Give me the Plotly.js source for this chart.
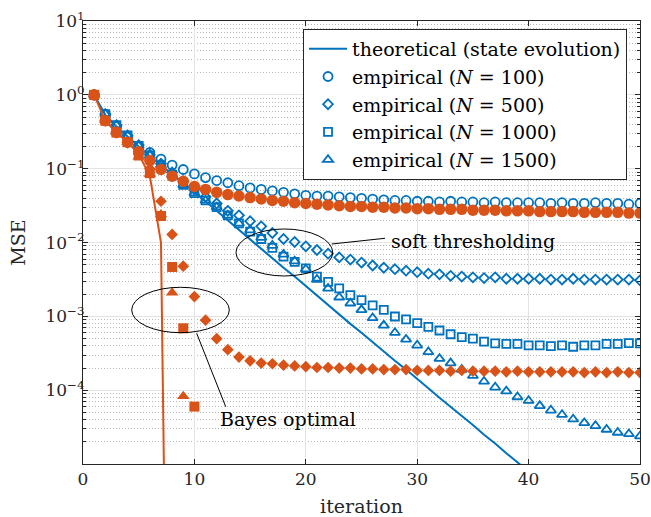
<!DOCTYPE html>
<html>
<head>
<meta charset="utf-8">
<script src="https://cdn.plot.ly/plotly-3.0.1.min.js"></script>
<style>html,body{margin:0;padding:0;background:#fff;}#chart{width:651px;height:517px;}</style>
</head>
<body>
<div id="chart"></div>
<script>
// ---- data ----
const iterations = Array.from({length: 50}, (_, i) => i + 1);

// soft thresholding, theoretical (state evolution)
const softTheory = [1.0, 0.537, 0.372, 0.269, 0.200, 0.148, 0.112, 0.0851, 0.0646, 0.0490,
  0.0363, 0.0269, 0.0200, 0.0148, 0.0110, 0.00832, 0.00617, 0.00457, 0.00347, 0.00257,
  0.00191, 0.00145, 0.00107, 0.000794, 0.000603, 0.000447, 0.000339, 0.000251, 0.000191, 0.000141,
  0.000107, 7.94e-5, 6.03e-5, 4.47e-5, 3.39e-5, 2.51e-5, 1.91e-5, 1.41e-5, 1.07e-5, 7.94e-6,
  6.03e-6, 4.47e-6, 3.39e-6, 2.51e-6, 1.91e-6, 1.41e-6, 1.07e-6, 7.94e-7, 6.03e-7, 4.47e-7];

// soft thresholding, empirical
const softN100 = [1.0, 0.55, 0.372, 0.269, 0.200, 0.166, 0.135, 0.112, 0.0977, 0.0851,
  0.0759, 0.0692, 0.0646, 0.0589, 0.0550, 0.0525, 0.0501, 0.0479, 0.0457, 0.0437,
  0.0427, 0.0427, 0.0417, 0.0407, 0.0398, 0.0389, 0.0380, 0.0372, 0.0372, 0.0363,
  0.0363, 0.0355, 0.0363, 0.0355, 0.0355, 0.0347, 0.0355, 0.0347, 0.0347, 0.0347,
  0.0347, 0.0339, 0.0347, 0.0339, 0.0339, 0.0347, 0.0339, 0.0339, 0.0331, 0.0339];
const softN500 = [1.0, 0.55, 0.389, 0.282, 0.209, 0.155, 0.117, 0.0891, 0.0676, 0.0525,
  0.0417, 0.0339, 0.0269, 0.0234, 0.0195, 0.0166, 0.0135, 0.0112, 0.0102, 0.00891,
  0.00794, 0.00708, 0.00631, 0.00589, 0.00537, 0.00490, 0.00457, 0.00437, 0.00417, 0.00398,
  0.00380, 0.00372, 0.00355, 0.00347, 0.00339, 0.00331, 0.00339, 0.00324, 0.00324, 0.00324,
  0.00324, 0.00316, 0.00316, 0.00324, 0.00316, 0.00316, 0.00316, 0.00316, 0.00316, 0.00309];
const softN1000 = [1.0, 0.55, 0.389, 0.282, 0.204, 0.151, 0.112, 0.0832, 0.0603, 0.0468,
  0.0372, 0.0302, 0.0234, 0.0182, 0.0141, 0.0112, 0.00851, 0.00646, 0.00550, 0.00447,
  0.00347, 0.00295, 0.00240, 0.00195, 0.00166, 0.00141, 0.00123, 0.00100, 0.000912, 0.000813,
  0.000724, 0.000646, 0.000575, 0.000525, 0.000501, 0.000457, 0.000432, 0.000427, 0.000427, 0.000407,
  0.000407, 0.000398, 0.000407, 0.000389, 0.000407, 0.000407, 0.000427, 0.000427, 0.000437, 0.000432];
const softN1500 = [1.0, 0.55, 0.389, 0.282, 0.204, 0.151, 0.112, 0.0832, 0.0603, 0.0468,
  0.0372, 0.0302, 0.0234, 0.0182, 0.0148, 0.0117, 0.00912, 0.00692, 0.00562, 0.00437,
  0.00316, 0.00240, 0.00182, 0.00151, 0.00123, 0.000955, 0.000759, 0.000603, 0.000490, 0.000407,
  0.000331, 0.000269, 0.000234, 0.000191, 0.000158, 0.000132, 0.000110, 9.77e-5, 8.13e-5, 7.24e-5,
  6.17e-5, 5.37e-5, 4.68e-5, 4.07e-5, 3.63e-5, 3.31e-5, 2.95e-5, 2.69e-5, 2.57e-5, 2.40e-5];

// Bayes optimal, theoretical
const bayesTheoryIter = [1, 2, 3, 4, 5, 6, 7, 8];
const bayesTheory = [1.0, 0.447, 0.309, 0.229, 0.158, 0.0794, 0.0100, 3e-14];

// Bayes optimal, empirical
const bayesN100 = [1.0, 0.447, 0.309, 0.229, 0.170, 0.129, 0.0977, 0.0794, 0.0676, 0.0575,
  0.0525, 0.0479, 0.0447, 0.0427, 0.0407, 0.0389, 0.0372, 0.0363, 0.0347, 0.0339,
  0.0331, 0.0324, 0.0316, 0.0309, 0.0309, 0.0302, 0.0302, 0.0295, 0.0295, 0.0288,
  0.0288, 0.0282, 0.0282, 0.0282, 0.0275, 0.0275, 0.0275, 0.0269, 0.0269, 0.0269,
  0.0263, 0.0263, 0.0263, 0.0263, 0.0257, 0.0257, 0.0257, 0.0257, 0.0251, 0.0251];
const bayesN500 = [1.0, 0.447, 0.309, 0.224, 0.158, 0.100, 0.0363, 0.0129, 0.00479, 0.00186,
  0.000891, 0.000501, 0.000355, 0.000282, 0.000251, 0.000234, 0.000229, 0.000219, 0.000214, 0.000209,
  0.000204, 0.000204, 0.000200, 0.000200, 0.000195, 0.000195, 0.000191, 0.000191, 0.000191, 0.000186,
  0.000186, 0.000186, 0.000182, 0.000186, 0.000182, 0.000182, 0.000182, 0.000178, 0.000182, 0.000178,
  0.000178, 0.000178, 0.000178, 0.000178, 0.000174, 0.000178, 0.000174, 0.000178, 0.000174, 0.000174];
const bayesN1000Iter = [1, 2, 3, 4, 5, 6, 7, 8, 9, 10];
const bayesN1000 = [1.0, 0.447, 0.309, 0.229, 0.151, 0.0871, 0.0229, 0.00468, 0.000692, 6.03e-5];
const bayesN1500Iter = [1, 2, 3, 4, 5, 6, 7, 8, 9];
const bayesN1500 = [1.0, 0.457, 0.316, 0.229, 0.145, 0.0851, 0.0240, 0.00209, 8.32e-5];

// labels
const legendNames = ['theoretical (state evolution)', 'empirical (<i>N</i> = 100)',
  'empirical (<i>N</i> = 500)', 'empirical (<i>N</i> = 1000)', 'empirical (<i>N</i> = 1500)'];
const xTickVals = [0, 10, 20, 30, 40, 50];
const yTickVals = [1e-4, 1e-3, 1e-2, 1e-1, 1e0, 1e1];
const yTickText = ['10<sup>\u22124</sup>', '10<sup>\u22123</sup>', '10<sup>\u22122</sup>',
  '10<sup>\u22121</sup>', '10<sup>0</sup>', '10<sup>1</sup>'];

// ---- styling ----
const BLUE = '#0072BD', ORANGE = '#D95319', AX = '#262626';
const FONT = 'DejaVu Serif';

const yMinor = [];
for (let e = -5; e <= 0; e++) for (let m = 2; m <= 9; m++) yMinor.push(m * Math.pow(10, e));

function openMarkers(y, symbol, size, name) {
  return {x: iterations, y: y, type: 'scatter', mode: 'markers', name: name,
    marker: {symbol: symbol, size: size, color: BLUE, line: {color: BLUE, width: 1.8}}};
}
function filledMarkers(x, y, symbol, size) {
  return {x: x, y: y, type: 'scatter', mode: 'markers', showlegend: false,
    marker: {symbol: symbol, size: size, color: ORANGE, line: {width: 0}}};
}

const traces = [
  {x: iterations, y: softTheory, type: 'scatter', mode: 'lines', name: legendNames[0],
   line: {color: BLUE, width: 2}},
  openMarkers(softN100, 'circle-open', 9, legendNames[1]),
  openMarkers(softN500, 'diamond-open', 7.5, legendNames[2]),
  openMarkers(softN1000, 'square-open', 8, legendNames[3]),
  openMarkers(softN1500, 'triangle-up-open', 9, legendNames[4]),
  {x: bayesTheoryIter, y: bayesTheory, type: 'scatter', mode: 'lines', showlegend: false,
   line: {color: ORANGE, width: 2}},
  filledMarkers(iterations, bayesN100, 'circle', 11.5),
  filledMarkers(iterations, bayesN500, 'diamond', 9),
  filledMarkers(bayesN1000Iter, bayesN1000, 'square', 10),
  filledMarkers(bayesN1500Iter, bayesN1500, 'triangle-up', 11)
];

// annotation geometry in paper coordinates
const ann = {
  softEllipse: [0.2747, 0.4244, 0.4483, 0.5305],
  bayesEllipse: [0.0874, 0.2964, 0.2627, 0.3989],
  softPointer: [0.4465, 0.4966, 0.5422, 0.5095],
  bayesPointer: [0.2041, 0.2950, 0.2562, 0.1293]
};
function paperShape(type, c) {
  return {type: type, xref: 'paper', yref: 'paper', x0: c[0], y0: c[1], x1: c[2], y1: c[3],
    line: {color: '#000', width: 1}};
}

const layout = {
  width: 651, height: 517,
  margin: {l: 83, r: 11, t: 21, b: 53},
  paper_bgcolor: '#fff', plot_bgcolor: '#fff',
  font: {family: FONT, size: 19, color: AX},
  showlegend: true,
  legend: {x: 0.395, y: 0.982, xanchor: 'left', yanchor: 'top', itemwidth: 38,
    bgcolor: '#fff', bordercolor: AX, borderwidth: 1,
    font: {family: FONT, size: 19, color: '#000'}},
  xaxis: {range: [0, 50], tickmode: 'array', tickvals: xTickVals,
    ticks: 'inside', ticklen: 5, tickcolor: AX, showline: true, linecolor: AX, linewidth: 1,
    mirror: 'allticks', showgrid: true, gridcolor: '#e3e3e3', zeroline: false,
    tickfont: {family: FONT, size: 17, color: AX},
    title: {text: 'iteration', font: {family: FONT, size: 19, color: AX}, standoff: 11}},
  yaxis: {type: 'log', range: [-4.997, 1], tickmode: 'array', tickvals: yTickVals, ticktext: yTickText,
    ticks: 'inside', ticklen: 5, tickcolor: AX, showline: true, linecolor: AX, linewidth: 1,
    mirror: 'allticks', showgrid: true, gridcolor: '#e3e3e3', zeroline: false,
    ticklabelstandoff: -6,
    tickfont: {family: FONT, size: 17, color: AX},
    minor: {tickmode: 'array', tickvals: yMinor, ticks: 'inside', ticklen: 3, tickcolor: AX,
      showgrid: true, gridcolor: '#b8b8b8', griddash: '1px,2px', gridwidth: 1},
    title: {text: 'MSE', font: {family: FONT, size: 19, color: AX}, standoff: 14}},
  shapes: [
    paperShape('circle', ann.softEllipse),
    paperShape('circle', ann.bayesEllipse),
    paperShape('line', ann.softPointer),
    paperShape('line', ann.bayesPointer)
  ],
  annotations: [
    {text: 'soft thresholding', xref: 'x', yref: 'y', x: 27.45, y: -1.98,
     xanchor: 'left', yanchor: 'middle', showarrow: false,
     font: {family: FONT, size: 19, color: '#000'}},
    {text: 'Bayes optimal', xref: 'x', yref: 'y', x: 12.08, y: -4.39,
     xanchor: 'left', yanchor: 'middle', showarrow: false,
     font: {family: FONT, size: 19, color: '#000'}}
  ]
};

Plotly.newPlot('chart', traces, layout, {displayModeBar: false, staticPlot: true});
</script>
</body>
</html>
